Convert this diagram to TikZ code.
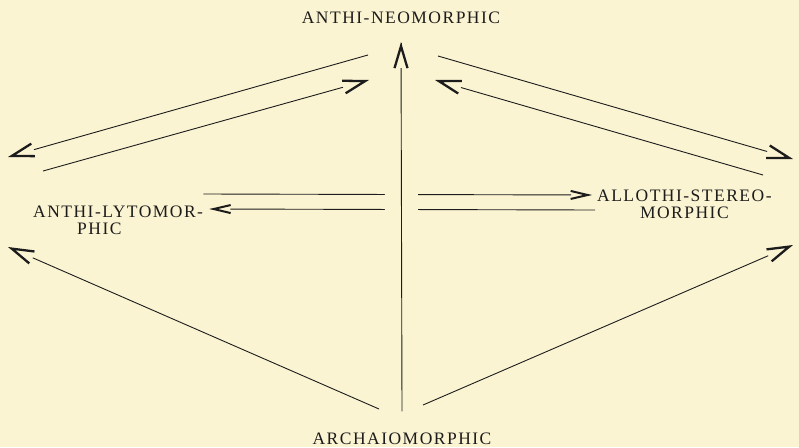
\documentclass[tikz,border=0pt]{standalone}
\usepackage{fontspec}
\usetikzlibrary{arrows.meta,calc}

\newfontfamily\platefont[LetterSpace=8.5]{Liberation Serif}
\definecolor{paper}{RGB}{251,244,210}
\definecolor{ink}{RGB}{28,28,28}

\begin{document}
\begin{tikzpicture}[
    x=1pt, y=-1pt,
    every node/.style={font=\platefont\fontsize{17.5}{16.5}\selectfont,
      text=ink, inner sep=0pt},
    link/.style={draw=ink, line width=0.9pt},
    head/.style={draw=ink, -{Straight Barb[length=22pt,width=13pt,line width=2.3pt]}},
    headflat/.style={draw=ink, -{Straight Barb[length=17pt,width=8pt,line width=2pt]}}
  ]

    % Paper ----------------------------------------------------
    \fill[paper] (0,0) rectangle (799,447);
    \useasboundingbox (0,0) rectangle (799,447);

    % Names ----------------------------------------------------
    \node (neo) at (401,18) {ANTHI-NEOMORPHIC};
    \node (archaio) at (402,438.5) {ARCHAIOMORPHIC};
    \node[align=left, anchor=north west] (lyto) at (33,206)
      {ANTHI-LYTOMOR-\\\hspace*{44pt}PHIC};
    \node[align=center, anchor=north west] (stereo) at (597,190)
      {ALLOTHI-STEREO-\\MORPHIC};

    % Free ends of the slanting arrows
    \coordinate (nL) at (368,55);   \coordinate (upL) at (8,157);
    \coordinate (lwL) at (43,171);  \coordinate (nLtip) at (369,80);
    \coordinate (nR) at (438,56);   \coordinate (upR) at (793,159);
    \coordinate (lwR) at (763,175); \coordinate (nRtip) at (435,80);
    \coordinate (aL) at (379,409);  \coordinate (dnL) at (8,247);
    \coordinate (aR) at (423,405);  \coordinate (dnR) at (793,245);

    % Ends of the two lines across the middle
    \coordinate (lyOut) at ([yshift=12pt]lyto.north east);
    \coordinate (stIn) at ([shift={(-5pt,-5pt)}]stereo.north west);
    \coordinate (stOut) at ([shift={(-2pt,-20pt)}]stereo.north west);
    \coordinate (lyIn) at ([shift={(6pt,-3pt)}]lyto.north east);

    % Slanting arrows, head set apart from the line ------------
    \foreach \s/\t in {nL/upL, lwL/nLtip, nR/upR, lwR/nRtip, aL/dnL, aR/dnR}{
      \draw[link, shorten >=27pt] (\s) -- (\t);
      \draw[head] ($(\t)!1pt!(\s)$) -- (\t);
    }

    % Across the middle ----------------------------------------
    \foreach \s/\t in {lyOut/stIn, stOut/lyIn}{
      \draw[link, shorten >=21pt] (\s) -- (\t);
      \draw[headflat] ($(\t)!1pt!(\s)$) -- (\t);
    }

    % Main stem (the middle lines break round it)
    \coordinate (stemTop) at ([yshift=-18pt]neo.south);
    \draw[link, shorten >=26pt, preaction={draw=paper, line width=33pt}]
      ([yshift=21pt]archaio.north) -- (stemTop);
    \draw[head] ($(stemTop)+(0,1)$) -- (stemTop);

\end{tikzpicture}
\end{document}
